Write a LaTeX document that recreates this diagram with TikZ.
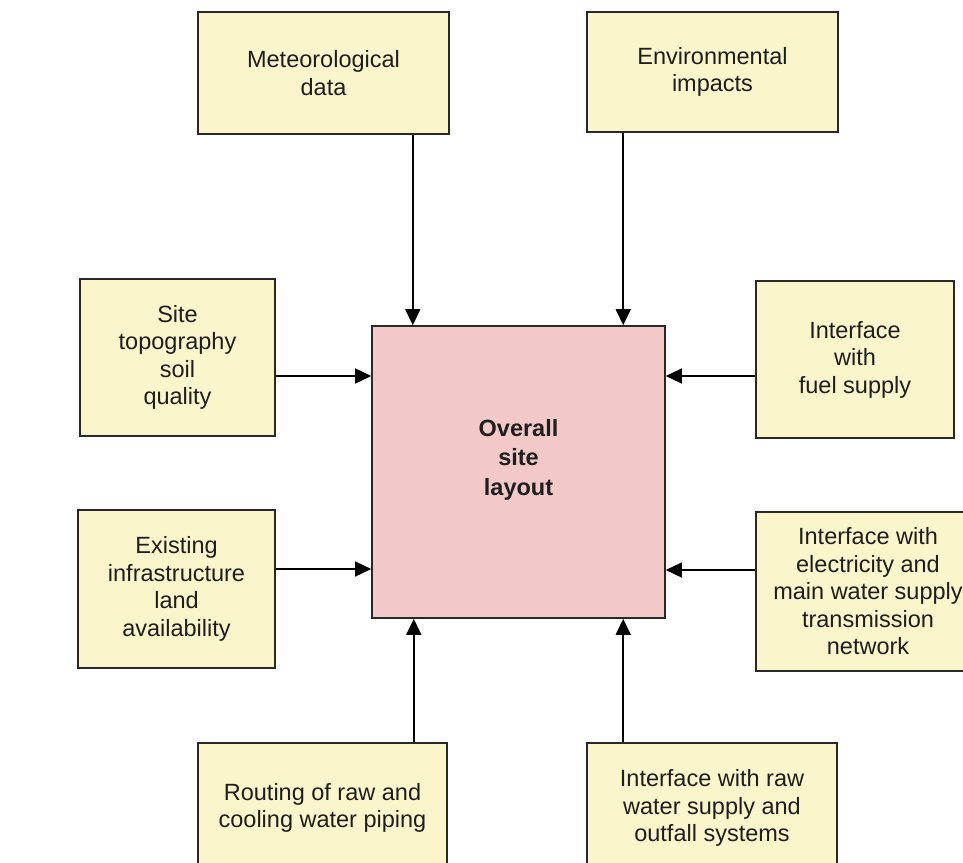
\documentclass[tikz,border=0pt]{standalone}
\usepackage{fontspec}
\setmainfont{Liberation Sans}
\usetikzlibrary{arrows.meta}
\definecolor{boxyellow}{RGB}{250,245,202}
\definecolor{boxpink}{RGB}{242,200,200}
\definecolor{edgegrey}{RGB}{40,40,40}
\definecolor{txt}{RGB}{30,30,30}
\begin{document}
\begin{tikzpicture}[x=1pt,y=-1pt,
  inbox/.style={draw=edgegrey, line width=1.6pt, fill=boxyellow, align=center,
    font=\fontsize{23.5}{27.5}\selectfont, text=txt, inner sep=0pt},
  ctrbox/.style={draw=edgegrey, line width=1.6pt, fill=boxpink, align=center,
    font=\bfseries\fontsize{23.5}{29.5}\selectfont, text=txt, inner sep=0pt},
  arr/.style={draw=black, line width=1.5pt, -{Triangle[length=16pt,width=15pt]}}
]
\useasboundingbox (0,0) rectangle (963,862);
\fill[white] (0,0) rectangle (963,862);
\clip (0,0) rectangle (963,862);

\node[inbox, minimum width=251pt, minimum height=122pt] (met) at (323.5,73) {Meteorological\\data};
\node[inbox, minimum width=251pt, minimum height=120pt] (env) at (712.5,72) {Environmental\\impacts};
\node[inbox, minimum width=195pt, minimum height=157pt] (site) at (177.5,357.5) {Site\\topography\\soil\\quality};
\node[inbox, minimum width=197pt, minimum height=158pt] (exist) at (176.5,589) {Existing\\infrastructure\\land\\availability};
\node[inbox, minimum width=198pt, minimum height=157pt] (fuel) at (855,359.5) {Interface\\with\\fuel supply};
\node[inbox, minimum width=224pt, minimum height=159pt] (elec) at (868,591.5) {Interface with\\electricity and\\main water supply\\transmission\\network};
\node[inbox, minimum width=249pt, minimum height=130pt] (route) at (322.5,808) {Routing of raw and\\cooling water piping};
\node[inbox, minimum width=250pt, minimum height=130pt] (raw) at (712,808) {Interface with raw\\water supply and\\outfall systems};
\node[ctrbox, minimum width=293pt, minimum height=292pt, text depth=30pt] (ctr) at (518.5,472) {Overall\\site\\layout};

\draw[arr] ([xshift=-37pt]met.south east) -- ([xshift=-37pt]met.south east |- ctr.north);
\draw[arr] ([xshift=37pt]env.south west) -- ([xshift=37pt]env.south west |- ctr.north);
\draw[arr] ([yshift=-18.5pt]site.east) -- ([yshift=-18.5pt]site.east -| ctr.west);
\draw[arr] ([yshift=20pt]exist.east) -- ([yshift=20pt]exist.east -| ctr.west);
\draw[arr] ([yshift=-16.5pt]fuel.west) -- ([yshift=-16.5pt]fuel.west -| ctr.east);
\draw[arr] ([yshift=21.5pt]elec.west) -- ([yshift=21.5pt]elec.west -| ctr.east);
\draw[arr] ([xshift=-34pt]route.north east) -- ([xshift=-34pt]route.north east |- ctr.south);
\draw[arr] ([xshift=37pt]raw.north west) -- ([xshift=37pt]raw.north west |- ctr.south);
\end{tikzpicture}
\end{document}
